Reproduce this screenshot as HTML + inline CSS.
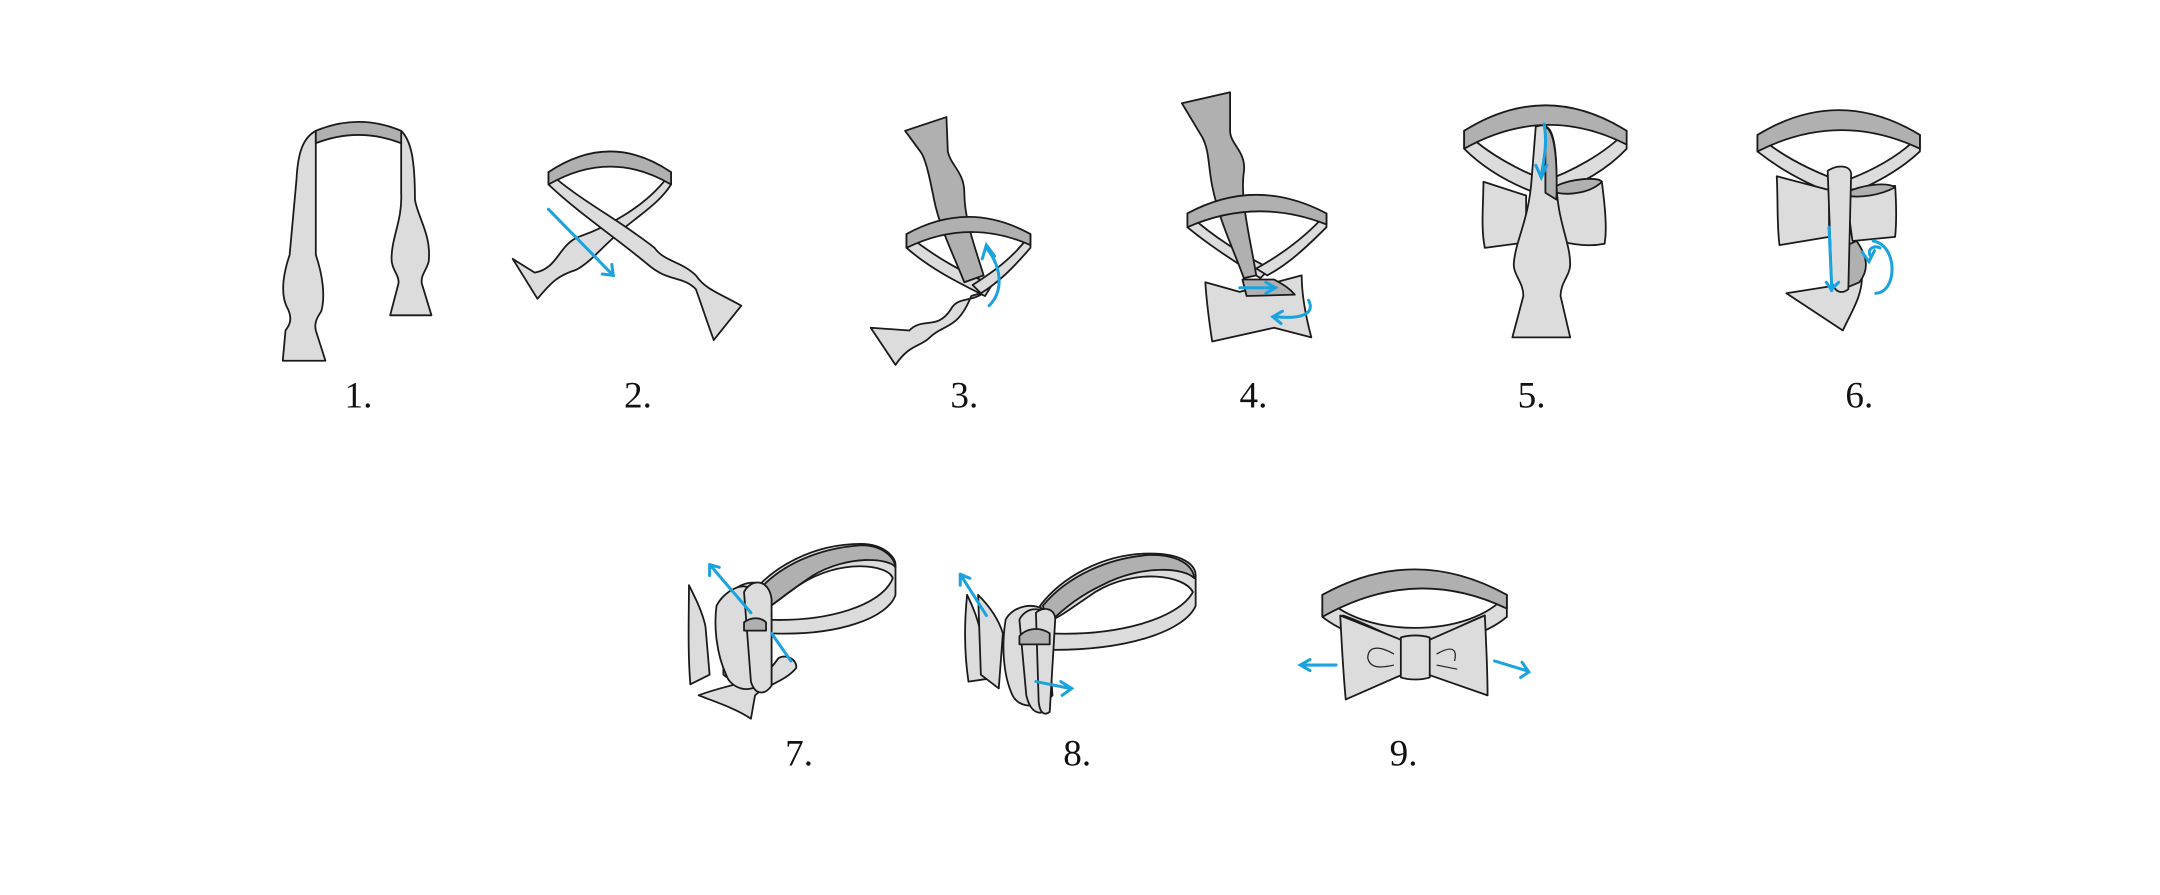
<!DOCTYPE html>
<html><head><meta charset="utf-8"><style>
html,body{margin:0;padding:0;background:#fff;}
svg{display:block;}
text{font-family:"Liberation Serif",serif;font-size:27px;fill:#111;}
.l{fill:#dcdcdc;stroke:#1a1a1a;stroke-width:1.3;stroke-linejoin:round;}
.d{fill:#b0b0b0;stroke:#1a1a1a;stroke-width:1.3;stroke-linejoin:round;}
.b{fill:none;stroke:#1ba3e0;stroke-width:2.2;stroke-linecap:round;}
</style></head><body>
<svg width="2160" height="895" viewBox="0 0 1568 650" xmlns="http://www.w3.org/2000/svg">
<!-- 1 -->
<path class="l" d="M229,95 C220,100 216,110 215,130 L210,185 C205,200 203,215 209,225 C212,232 210,236 207,240 L205,262 L236,262 L229,240 C228,235 229,232 233,226 C236,215 234,200 229,185 L229,104 Z"/>
<path class="l" d="M291,95 C298,102 301,115 301,145 C303,158 313,170 311,190 C309,197 305,200 306,206 L313,229 L283,229 L289,206 C290,200 284,196 284,188 C284,172 292,160 291,140 Z"/>
<path class="d" d="M229,95 Q260,82 291,95 L291,104 Q260,92 229,104 Z"/>
<!-- 2 -->
<path class="l" d="M487,125 C470,150 440,165 420,172 C405,178 405,195 388,198 L372,188 L390,217 C400,205 405,200 418,196 C430,190 440,175 460,160 C470,152 480,145 487,134 Z"/>
<path class="l" d="M398,125 L398,134 C420,155 450,175 470,192 C485,205 495,200 505,210 C508,218 510,225 518,247 L538,222 C520,212 512,210 505,200 C495,190 482,190 475,180 C450,160 420,145 398,125 Z"/>
<path class="d" d="M398,125 Q443,95 487,125 L487,134 Q443,108 398,134 Z"/>
<path class="b" d="M398,152 L445,200 M437,199 L445,200 L444,192"/>
<!-- 3 -->
<path class="l" d="M715,212 C705,220 695,215 690,225 C680,240 670,230 660,240 L632,238 L650,265 C660,250 668,252 675,245 C685,235 695,240 705,215 Z"/>
<path class="l" d="M658,170 L658,180 C675,195 695,205 715,215 L720,207 C700,198 680,188 658,170 Z"/>
<path class="d" d="M657,95 L687,85 L688,110 C690,120 700,125 700,140 C700,160 708,180 714,200 L700,205 C692,185 682,165 678,145 C675,130 672,115 668,110 Z"/>
<path class="l" d="M748,170 L748,180 C735,195 725,205 712,213 L706,207 C720,198 735,188 748,170 Z"/>
<path class="d" d="M658,170 Q703,145 748,170 L748,178 Q703,158 658,180 Z"/>
<path class="b" d="M716,180 C728,195 728,212 718,222 M713,188 L716,178 L722,186"/>
<!-- 4 -->
<path class="l" d="M862,155 L862,165 C880,180 900,192 915,202 L922,195 C902,185 882,173 862,155 Z"/>
<path class="l" d="M963,155 L963,165 C948,180 935,192 920,200 L912,195 C930,185 948,172 963,155 Z"/>
<path class="d" d="M858,75 L893,67 L893,95 C893,105 905,110 903,125 C900,145 908,175 912,200 L903,202 C895,180 885,160 880,135 C877,120 878,110 873,100 Z"/>
<path class="d" d="M862,155 Q912,128 963,155 L963,163 Q912,143 862,165 Z"/>
<path class="l" d="M875,205 L900,212 L945,200 C945,215 948,230 952,245 L925,238 L880,248 C878,235 876,220 875,205 Z"/>
<path class="d" d="M902,203 L925,203 C930,206 935,208 940,214 L905,215 Z"/>
<path class="b" d="M900,209 L925,209 M919,205 L926,209 L919,213"/>
<path class="b" d="M950,218 C955,228 945,232 925,230 M931,226 L924,230 L930,235"/>
<!-- 5 -->
<path class="l" d="M1063,95 L1063,108 C1080,125 1100,135 1120,142 L1125,132 C1105,125 1080,112 1063,95 Z"/>
<path class="l" d="M1181,95 L1181,108 C1165,125 1145,135 1125,142 L1120,132 C1140,125 1165,112 1181,95 Z"/>
<path class="d" d="M1063,95 Q1122,58 1181,95 L1181,105 Q1122,75 1063,108 Z"/>
<path class="l" d="M1077,132 L1108,142 L1108,176 L1078,180 C1075,165 1077,148 1077,132 Z"/>
<path class="l" d="M1130,135 L1163,132 C1165,148 1167,165 1165,177 C1150,180 1138,176 1130,175 Z"/>
<path class="d" d="M1130,135 C1140,130 1160,128 1163,132 C1155,140 1140,142 1130,140 Z"/>
<path class="l" d="M1115,92 C1125,88 1130,95 1130,130 C1130,160 1140,175 1140,192 C1140,200 1133,205 1133,215 L1140,245 L1098,245 L1106,215 C1106,205 1099,200 1099,192 C1100,175 1110,160 1112,130 Z"/>
<path class="d" d="M1122,92 C1128,95 1131,110 1130,145 L1122,140 Z"/>
<path class="b" d="M1121,90 C1124,105 1120,120 1119,128 M1115,120 L1119,129 L1123,120"/>
<!-- 6 -->
<path class="l" d="M1276,98 L1276,110 C1295,125 1315,135 1335,142 L1340,133 C1320,126 1295,115 1276,98 Z"/>
<path class="l" d="M1394,98 L1394,110 C1378,125 1358,135 1340,142 L1335,133 C1355,126 1378,115 1394,98 Z"/>
<path class="d" d="M1276,98 Q1335,62 1394,98 L1394,108 Q1335,80 1276,110 Z"/>
<path class="l" d="M1290,128 L1328,138 L1328,172 L1292,178 C1290,162 1291,145 1290,128 Z"/>
<path class="l" d="M1340,138 L1376,135 C1377,150 1377,162 1376,172 L1345,175 Z"/>
<path class="d" d="M1340,140 C1352,134 1370,132 1376,136 C1365,142 1350,144 1340,142 Z"/>
<path class="l" d="M1297,213 L1335,207 L1352,200 C1352,215 1345,225 1338,240 Z"/>
<path class="d" d="M1337,180 L1348,175 C1355,185 1358,195 1350,205 L1338,210 Z"/>
<path class="l" d="M1327,124 C1335,119 1345,120 1344,128 L1342,210 C1337,214 1332,212 1330,205 Z"/>
<path class="b" d="M1328,165 L1330,210 L1335,205 M1326,205 L1330,211"/>
<path class="b" d="M1360,175 C1378,178 1378,212 1362,213 M1358,186 C1355,180 1362,178 1365,180 M1352,183 L1357,190 L1361,182"/>
<!-- 7 -->
<path class="l" d="M500,425 C505,435 510,445 512,455 L515,490 L501,497 C499,472 500,448 500,425 Z"/>
<path class="l" d="M545,432 C560,412 590,395 625,395 C642,395 650,405 650,410 L650,432 C645,448 610,462 560,460 L556,450 C600,452 640,440 648,420 C645,410 610,405 580,425 C570,432 560,440 552,445 Z"/>
<path class="d" d="M548,432 C565,410 595,398 625,396 C640,396 649,404 650,412 C645,405 615,403 590,418 C575,428 562,438 552,446 Z"/>
<path class="l" d="M507,505 C520,500 532,498 540,495 C555,492 560,485 565,478 C570,475 578,478 578,485 C570,495 555,498 548,505 L545,522 C535,515 520,510 507,505 Z"/>
<path class="l" d="M525,440 C530,425 545,420 555,425 L560,445 L560,495 C550,500 535,498 525,490 Z"/>
<path class="l" d="M520,440 C525,430 540,420 548,430 L553,495 C545,505 530,500 527,490 C520,475 518,455 520,440 Z"/>
<path class="l" d="M540,430 C545,420 558,420 560,435 L560,498 C555,505 548,505 545,495 Z"/>
<path class="d" d="M540,452 C545,448 552,448 556,452 L556,458 L540,458 Z"/>
<path class="b" d="M515,410 L545,445 M560,460 L574,480 M515,410 L515,418 M515,410 L522,412"/>
<!-- 8 -->
<path class="l" d="M702,432 C706,440 710,450 712,460 L717,493 L703,495 C700,475 700,452 702,432 Z"/>
<path class="l" d="M710,432 C718,440 725,450 728,460 L725,500 L712,490 Z"/>
<path class="l" d="M755,440 C770,420 800,402 835,402 C858,402 868,410 868,418 L868,440 C860,458 820,472 765,472 L762,460 C810,462 855,450 866,430 C860,418 825,412 795,430 C780,440 770,448 760,452 Z"/>
<path class="d" d="M757,440 C775,418 805,405 835,403 C855,403 866,410 867,420 C860,412 828,410 800,425 C785,432 772,442 762,452 Z"/>
<path class="l" d="M730,450 C735,440 752,436 760,445 L764,505 C755,515 740,515 735,505 C728,490 727,468 730,450 Z"/>
<path class="l" d="M740,450 C745,440 758,440 762,450 L760,515 C755,520 748,518 745,505 Z"/>
<path class="l" d="M752,445 C758,440 766,442 766,450 L762,517 C758,520 755,518 754,510 Z"/>
<path class="d" d="M740,462 C745,456 755,455 762,460 L762,468 L740,468 Z"/>
<path class="b" d="M697,417 L716,447 M697,417 L697,425 M697,417 L704,420"/>
<path class="b" d="M752,495 L777,500 M770,495 L778,500 L771,505"/>
<!-- 9 -->
<path class="l" d="M960,432 L960,448 C975,460 1000,468 1027,470 C1055,468 1080,460 1094,448 L1094,432 C1080,448 1055,456 1027,456 C1000,456 975,448 960,432 Z"/>
<path class="d" d="M960,432 Q1027,395 1094,432 L1094,442 Q1027,410 960,448 Z"/>
<path class="d" d="M975,447 C990,452 1005,460 1018,466 L1000,468 C990,462 980,455 975,447 Z"/>
<path class="d" d="M1078,447 C1065,452 1050,460 1037,466 L1055,468 C1065,462 1075,455 1078,447 Z"/>
<path class="l" d="M973,447 L1018,465 L1018,490 L977,508 C975,487 974,467 973,447 Z"/>
<path class="l" d="M1078,447 L1037,465 L1037,490 L1080,505 C1080,487 1079,467 1078,447 Z"/>
<path class="l" d="M1017,463 C1023,461 1032,461 1038,463 L1038,492 C1032,494 1023,494 1017,492 Z"/>
<path fill="none" stroke="#222" stroke-width="0.9" d="M1012,475 C1000,468 993,470 993,478 C995,486 1003,485 1012,483 M1043,475 C1055,468 1058,472 1056,480 M1043,483 L1058,486"/>
<path class="b" d="M970,483 L945,483 M951,479 L944,483 L951,487"/>
<path class="b" d="M1085,480 L1108,487 M1105,481 L1110,488 L1104,492"/>
<!-- labels -->
<text x="260" y="296" text-anchor="middle">1.</text>
<text x="463" y="296" text-anchor="middle">2.</text>
<text x="700" y="296" text-anchor="middle">3.</text>
<text x="910" y="296" text-anchor="middle">4.</text>
<text x="1112" y="296" text-anchor="middle">5.</text>
<text x="1350" y="296" text-anchor="middle">6.</text>
<text x="580" y="556" text-anchor="middle">7.</text>
<text x="782" y="556" text-anchor="middle">8.</text>
<text x="1019" y="556" text-anchor="middle">9.</text>
</svg>
</body></html>
